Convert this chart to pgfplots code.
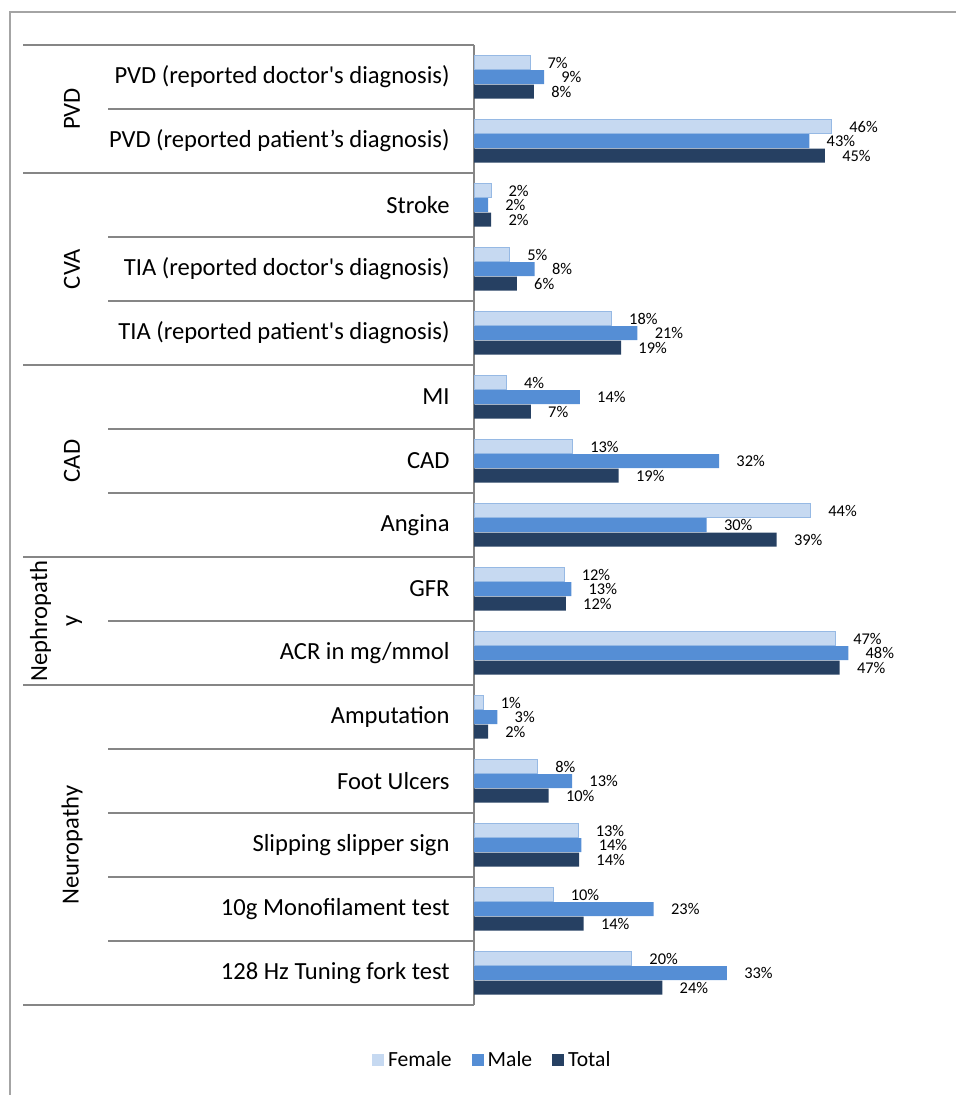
\documentclass[border=0pt]{standalone}
\usepackage{pgfplots}
\pgfplotsset{compat=1.18}
\usepackage{pgfplotstable}
\usepackage{fontspec}
\setmainfont{Carlito}
\definecolor{cF}{RGB}{198,217,241}
\definecolor{cFb}{RGB}{150,185,228}
\definecolor{cM}{RGB}{85,142,213}
\definecolor{cT}{RGB}{38,64,98}
\definecolor{frm}{RGB}{134,134,134}

\pgfplotstableread{
idx f fl m ml t tl
0 7.2 7 9.0 9 7.7 8
1 46.0 46 43.1 43 45.1 45
2 2.2 2 1.8 2 2.2 2
3 4.6 5 7.8 8 5.5 6
4 17.7 18 21.0 21 18.9 19
5 4.2 4 13.6 14 7.3 7
6 12.7 13 31.5 32 18.6 19
7 43.3 44 29.9 30 38.9 39
8 11.6 12 12.5 13 11.8 12
9 46.5 47 48.1 48 47.0 47
10 1.2 1 3.0 3 1.8 2
11 8.2 8 12.6 13 9.6 10
12 13.4 13 13.8 14 13.5 14
13 10.2 10 23.1 23 14.1 14
14 20.3 20 32.5 33 24.2 24
}\data

\begin{document}
\begin{tikzpicture}[x=0.5pt,y=-0.5pt]
\useasboundingbox (0,0) rectangle (956,1095);
% outer chart border
\draw[frm!75, line width=0.75pt] (10,1095) -- (10,12) -- (956,12);
% group lines
\foreach \yy in {45,173,365,557,685,1005}{
  \draw[frm, line width=0.75pt] (23,\yy) -- (474,\yy);
}
% category lines
\foreach \yy in {109,237,301,429,493,621,749,813,877,941}{
  \draw[frm, line width=0.75pt] (108,\yy) -- (474,\yy);
}
% group labels
\begin{scope}[every node/.style={font=\fontsize{12.3}{15.5}\selectfont, rotate=90, align=center}]
\node at (72,109) {PVD};
\node at (72,269) {CVA};
\node at (72,461) {CAD};
\node at (56,621) {Nephropath\\y};
\node at (72,845) {Neuropathy};
\end{scope}

\begin{axis}[
  at={(237pt,-502.5pt)}, anchor=south west,
  scale only axis, width=241pt, height=480pt,
  xbar, bar width=7pt,
  xmin=0, xmax=61.95, ymin=-0.5, ymax=14.5, y dir=reverse,
  axis x line=none, axis y line*=left,
  y axis line style={draw=frm, line width=0.75pt},
  ytick={0,...,14},
  yticklabels={
    PVD (reported doctor\textquotesingle s diagnosis),
    PVD (reported patient’s diagnosis),
    Stroke,
    TIA (reported doctor\textquotesingle s diagnosis),
    TIA (reported patient\textquotesingle s diagnosis),
    MI, CAD, Angina, GFR\ , ACR in mg/mmol,
    Amputation, Foot Ulcers, Slipping slipper sign,
    10g Monofilament test, 128 Hz Tuning fork test},
  major tick length=0pt,
  yticklabel style={font=\fontsize{12.3}{14}\selectfont, inner sep=0pt, xshift=-12pt, anchor=east},
  clip=false,
  nodes near coords={\pgfplotspointmeta\%}, point meta=explicit symbolic,
  nodes near coords style={font=\fontsize{8.2}{9}\selectfont, anchor=west, inner sep=0pt, xshift=8.5pt, text=black},
  legend columns=3,
  legend style={at={(0.04,0)}, anchor=center, yshift=-27.5pt, draw=none, fill=none,
    font=\fontsize{10.8}{12}\selectfont,
    /tikz/every even column/.append style={column sep=8pt}},
  legend image code/.code={\path[#1,draw=none] (0pt,-3pt) rectangle (6pt,3pt);},
]
\addplot[fill=cF, draw=cFb, line width=0.5pt, bar shift=7.25pt] table[x=f, y=idx, meta=fl] {\data};
\addplot[fill=cM, draw=none, bar shift=0pt] table[x=m, y=idx, meta=ml] {\data};
\addplot[fill=cT, draw=none, bar shift=-7.25pt] table[x=t, y=idx, meta=tl] {\data};
\legend{Female, Male, Total}
\end{axis}
\end{tikzpicture}
\end{document}
